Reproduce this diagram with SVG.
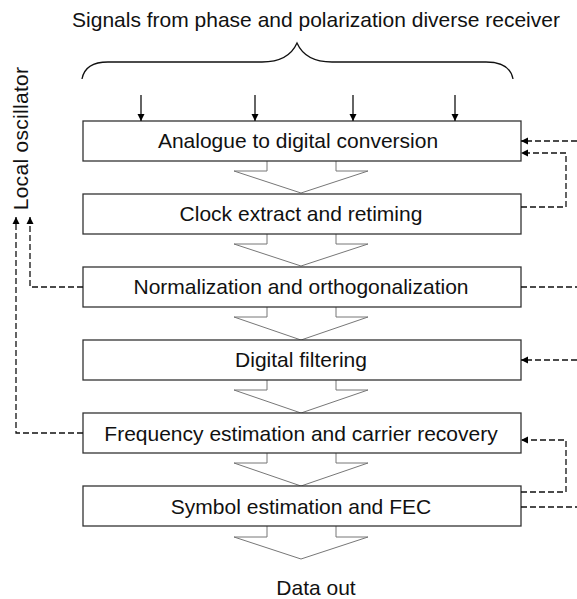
<svg xmlns="http://www.w3.org/2000/svg" width="577" height="599" viewBox="0 0 577 599">
<defs>
<marker id="ah" markerWidth="8" markerHeight="8" refX="7" refY="4" orient="auto" markerUnits="userSpaceOnUse">
<path d="M0,0.5 L7,4 L0,7.5 Z" fill="#000"/>
</marker>
<style>
text{font-family:"Liberation Sans",Arial,sans-serif;fill:#111}
.box{fill:#fff;stroke:#333;stroke-width:1.3}
.lbl{font-size:21px;text-anchor:middle}
.blk{fill:#fff;stroke:#777;stroke-width:1}
.dash{fill:none;stroke:#111;stroke-width:1.3;stroke-dasharray:6,3}
.sol{fill:none;stroke:#111;stroke-width:1.3}
</style>
</defs>
<text x="316" y="27" style="font-size:21px;text-anchor:middle">Signals from phase and polarization diverse receiver</text>
<text transform="translate(28,138.5) rotate(-90)" style="font-size:21px;text-anchor:middle;letter-spacing:0.3px">Local oscillator</text>
<text x="316" y="595" style="font-size:21px;text-anchor:middle">Data out</text>
<path d="M82,79 C84,68 92,62 108,62 L262,62 C285,62 293,52 297,43 C301,52 309,62 332,62 L486,62 C502,62 511,68 513,79" class="sol" stroke-width="1"/>
<g id="blockarrows">
<path class="blk" d="M267,161 V171 H234 L301,193 L368,171 H336 V161"/>
<path class="blk" d="M267,234 V244 H234 L301,266 L368,244 H336 V234"/>
<path class="blk" d="M267,307 V317 H234 L301,340 L368,317 H336 V307"/>
<path class="blk" d="M267,380 V390 H234 L301,413 L368,390 H336 V380"/>
<path class="blk" d="M267,453 V463 H234 L301,486 L368,463 H336 V453"/>
<path class="blk" d="M267,526 V537 H234 L301,559 L368,537 H336 V526"/>
</g>
<g id="n1"><rect class="box" x="83" y="121" width="438" height="40"/><text class="lbl" x="298" y="148">Analogue to digital conversion</text></g>
<g id="n2"><rect class="box" x="83" y="194" width="438" height="40"/><text class="lbl" x="301" y="221">Clock extract and retiming</text></g>
<g id="n3"><rect class="box" x="83" y="267" width="438" height="40"/><text class="lbl" x="301" y="294">Normalization and orthogonalization</text></g>
<g id="n4"><rect class="box" x="83" y="340" width="438" height="40"/><text class="lbl" x="301" y="367">Digital filtering</text></g>
<g id="n5"><rect class="box" x="83" y="413" width="438" height="40"/><text class="lbl" x="301" y="441">Frequency estimation and carrier recovery</text></g>
<g id="n6"><rect class="box" x="83" y="486" width="438" height="40"/><text class="lbl" x="301" y="514">Symbol estimation and FEC</text></g>
<g id="connectors">
<line class="sol" x1="141" y1="95" x2="141" y2="121" marker-end="url(#ah)"/>
<line class="sol" x1="255" y1="95" x2="255" y2="121" marker-end="url(#ah)"/>
<line class="sol" x1="353" y1="95" x2="353" y2="121" marker-end="url(#ah)"/>
<line class="sol" x1="455" y1="95" x2="455" y2="121" marker-end="url(#ah)"/>
<path class="dash" d="M83,287 H30 V217" marker-end="url(#ah)"/>
<path class="dash" d="M83,433 H16 V217" marker-end="url(#ah)"/>
<path class="dash" d="M577,141 H521" marker-end="url(#ah)"/>
<path class="dash" d="M521,207 H566 V153 H521" marker-end="url(#ah)"/>
<path class="dash" d="M521,287 H577"/>
<path class="dash" d="M577,360 H521" marker-end="url(#ah)"/>
<path class="dash" d="M521,492 H566 V440 H521" marker-end="url(#ah)"/>
<path class="dash" d="M521,507 H577"/>
</g>
</svg>
